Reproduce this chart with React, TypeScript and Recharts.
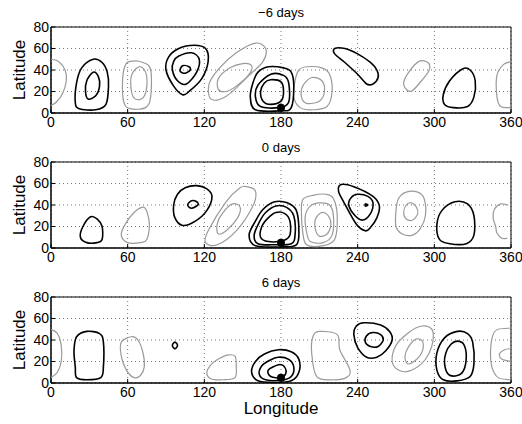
import React from "react";
import {
  CartesianGrid,
  ReferenceArea,
  Scatter,
  ScatterChart,
  XAxis,
  YAxis,
} from "recharts";

type Contour = [number, number][];

const lonTicks = [0, 60, 120, 180, 240, 300, 360];
const latTicks = [0, 20, 40, 60, 80];
const titles = ["\u22126 days", "0 days", "6 days"];
const marker: Contour = [[180, 5]];

// -6 days
const p1Black: Contour[] = [
  [[33, 50], [40, 47], [44, 38], [45, 25], [43, 8], [35, 3], [22, 4], [19, 10], [20, 28], [24, 42]],
  [[33, 38], [37, 34], [38, 25], [35, 16], [29, 13], [27, 20], [28, 30]],
  [[100, 60], [112, 63], [121, 60], [123, 48], [118, 32], [108, 20], [103, 17], [96, 25], [90, 40], [92, 52]],
  [[100, 53], [110, 56], [116, 50], [114, 38], [106, 27], [99, 30], [95, 40], [96, 48]],
  [[103, 44], [108, 43], [109, 40], [105, 37], [101, 39]],
  [[170, 43], [182, 42], [188, 38], [190, 25], [188, 5], [180, 2], [160, 3], [156, 15], [158, 28], [162, 38]],
  [[172, 36], [182, 35], [186, 28], [186, 10], [178, 5], [164, 6], [160, 15], [162, 26]],
  [[172, 31], [180, 29], [182, 20], [180, 11], [172, 8], [166, 11], [164, 20], [167, 28]],
  [[222, 60], [230, 60], [240, 55], [250, 47], [255, 40], [256, 33], [252, 27], [247, 27], [240, 36], [230, 47], [222, 55]],
  [[322, 41], [328, 40], [332, 30], [331, 15], [326, 6], [315, 5], [308, 8], [307, 17], [312, 30]],
];
const p1Gray: Contour[] = [
  [[62, 48], [72, 47], [78, 40], [78, 15], [74, 5], [62, 4], [57, 10], [56, 30], [58, 44]],
  [[69, 43], [74, 38], [75, 25], [72, 14], [66, 13], [63, 20], [63, 35]],
  [[160, 65], [168, 60], [166, 48], [155, 35], [140, 18], [130, 12], [124, 15], [124, 28], [132, 42], [145, 56]],
  [[150, 46], [157, 44], [155, 36], [145, 25], [137, 20], [131, 22], [131, 32], [140, 42]],
  [[200, 43], [212, 42], [218, 36], [220, 20], [216, 6], [205, 3], [195, 5], [190, 15], [191, 30], [194, 40]],
  [[204, 33], [212, 30], [214, 20], [210, 11], [200, 9], [196, 15], [197, 25]],
  [[288, 48], [295, 47], [296, 40], [290, 30], [283, 21], [279, 21], [276, 28], [280, 38]],
];
const p1Edge: Contour[] = [
  [[0, 50], [6, 48], [11, 40], [12, 30], [9, 18], [4, 10], [0, 7]],
  [[360, 48], [354, 45], [349, 35], [349, 15], [352, 6], [360, 5]],
];

// 0 days
const p2Black: Contour[] = [
  [[31, 29], [36, 27], [40, 20], [40, 8], [36, 5], [28, 5], [23, 10], [25, 20]],
  [[105, 56], [114, 58], [122, 55], [126, 48], [122, 35], [113, 25], [103, 21], [97, 28], [96, 40], [99, 50]],
  [[110, 44], [114, 43], [115, 40], [110, 37], [107, 40]],
  [[175, 43], [185, 42], [192, 35], [194, 15], [192, 3], [180, 1], [160, 2], [155, 12], [160, 25], [166, 36]],
  [[176, 39], [184, 38], [190, 30], [191, 12], [188, 4], [175, 3], [162, 4], [159, 12], [163, 24], [168, 33]],
  [[176, 33], [183, 32], [187, 25], [187, 12], [182, 7], [170, 6], [164, 10], [165, 20], [170, 28]],
  [[227, 59], [237, 57], [252, 48], [257, 39], [255, 28], [250, 19], [246, 16], [239, 22], [229, 43], [225, 53]],
  [[240, 50], [248, 48], [252, 42], [250, 32], [244, 26], [238, 30], [233, 40], [235, 47]],
  [[246, 41], [248, 40], [246, 39]],
  [[316, 43], [326, 41], [331, 30], [331, 12], [325, 4], [312, 4], [304, 8], [302, 22], [306, 35]],
];
const p2Gray: Contour[] = [
  [[72, 38], [75, 34], [77, 22], [75, 8], [70, 5], [60, 5], [55, 12], [58, 22], [65, 33]],
  [[153, 57], [160, 53], [158, 39], [145, 16], [130, 3], [121, 5], [123, 16], [137, 43], [148, 56]],
  [[142, 41], [148, 38], [146, 28], [138, 17], [131, 13], [130, 22], [134, 32]],
  [[205, 49], [215, 50], [221, 46], [224, 30], [222, 8], [212, 2], [200, 3], [197, 15], [196, 32], [197, 45]],
  [[210, 42], [218, 40], [221, 30], [220, 12], [213, 5], [203, 6], [200, 15], [199, 30], [203, 39]],
  [[212, 33], [217, 30], [219, 22], [216, 13], [210, 11], [207, 17], [207, 27]],
  [[278, 52], [287, 52], [292, 46], [293, 30], [289, 18], [283, 12], [275, 13], [270, 20], [270, 35], [272, 46]],
  [[282, 42], [286, 38], [287, 32], [283, 26], [278, 27], [276, 33], [278, 40]],
];
const p2Edge: Contour[] = [
  [[357, 40], [352, 41], [347, 36], [346, 28], [348, 20], [349, 14], [353, 9], [357, 9]],
];

// 6 days
const p3Black: Contour[] = [
  [[28, 48], [38, 46], [41, 38], [41, 15], [39, 5], [28, 3], [20, 5], [19, 15], [18, 30], [20, 43]],
  [[97, 38], [99, 35], [97, 32], [95, 35]],
  [[178, 31], [188, 29], [194, 22], [194, 10], [188, 2], [175, 0.5], [162, 2], [157, 10], [160, 20], [167, 27]],
  [[178, 24], [186, 22], [190, 15], [188, 6], [180, 2.5], [168, 3], [163, 8], [165, 16], [171, 21]],
  [[178, 17], [182, 16], [184, 10], [180, 5], [172, 6], [170, 12]],
  [[245, 56], [258, 54], [265, 48], [267, 40], [262, 30], [255, 24], [247, 24], [240, 33], [237, 45], [239, 53]],
  [[252, 47], [258, 45], [260, 40], [256, 34], [250, 34], [246, 38], [247, 44]],
  [[318, 48], [326, 46], [330, 38], [331, 18], [328, 6], [318, 2], [307, 3], [302, 12], [302, 28], [308, 42]],
  [[318, 39], [323, 36], [325, 25], [323, 12], [318, 7], [311, 8], [308, 18], [309, 28], [313, 36]],
];
const p3Gray: Contour[] = [
  [[63, 43], [68, 40], [72, 28], [73, 15], [70, 7], [65, 5], [59, 12], [55, 25], [55, 38]],
  [[138, 26], [144, 25], [145, 15], [144, 5], [135, 3], [125, 4], [122, 10], [126, 18], [132, 23]],
  [[210, 48], [224, 45], [226, 31], [234, 12], [231, 5], [221, 3], [208, 6], [204, 28], [205, 43]],
  [[290, 53], [298, 50], [299, 40], [296, 28], [290, 18], [280, 11], [272, 12], [267, 20], [270, 35], [280, 47]],
  [[286, 41], [291, 38], [290, 28], [284, 20], [279, 18], [277, 25], [280, 34]],
];
const p3Edge: Contour[] = [
  [[0, 50], [5, 46], [8, 35], [8, 20], [5, 10], [0, 5]],
  [[360, 51], [350, 50], [346, 45], [344, 30], [345, 15], [350, 5], [360, 3]],
  [[360, 32], [355, 31], [351, 27], [353, 22], [360, 20]],
];

// catmull-rom curve so the contour goes through the read points
const smooth = (closed: boolean) => (ctx: any) => {
  let pts: number[][] = [];
  return {
    areaStart() {},
    areaEnd() {},
    lineStart() {
      pts = [];
    },
    point(x: number, y: number) {
      pts.push([+x, +y]);
    },
    lineEnd() {
      const n = pts.length;
      if (!n) return;
      const at = (i: number) => (closed ? pts[(i + n) % n] : pts[Math.max(0, Math.min(n - 1, i))]);
      ctx.moveTo(pts[0][0], pts[0][1]);
      const segs = closed ? n : n - 1;
      for (let i = 0; i < segs; i++) {
        const p0 = at(i - 1), p1 = at(i), p2 = at(i + 1), p3 = at(i + 2);
        ctx.bezierCurveTo(
          p1[0] + (p2[0] - p0[0]) / 6, p1[1] + (p2[1] - p0[1]) / 6,
          p2[0] - (p3[0] - p1[0]) / 6, p2[1] - (p3[1] - p1[1]) / 6,
          p2[0], p2[1]
        );
      }
      if (closed) ctx.closePath();
    },
  };
};
const closedCurve = smooth(true);
const openCurve = smooth(false);

const toPts = (c: Contour) => c.map(([x, y]) => ({ x, y }));
const font = "'Liberation Sans', Arial, sans-serif";
const noShape = () => <g />;

function contourSeries(list: Contour[], color: string, width: number, closed: boolean, key: string) {
  return list.map((c, i) => (
    <Scatter
      key={`${key}-${i}`}
      data={toPts(c)}
      fill={color}
      line={{ stroke: color, strokeWidth: width }}
      lineType="joint"
      lineJointType={(closed ? closedCurve : openCurve) as any}
      shape={noShape}
      isAnimationActive={false}
    />
  ));
}

interface PanelProps {
  title: string;
  black: Contour[];
  gray: Contour[];
  edge: Contour[];
  last?: boolean;
}

function Panel({ title, black, gray, edge, last = false }: PanelProps) {
  const height = last ? 154 : 135;
  return (
    <div style={{ position: "relative", width: 522, height }}>
      <div
        style={{
          position: "absolute",
          left: 51,
          width: 460,
          top: 5,
          textAlign: "center",
          fontFamily: font,
          fontSize: 13,
          lineHeight: "16px",
        }}
      >
        {title}
      </div>
      <ScatterChart width={522} height={height} margin={{ top: 27, right: 11, bottom: 0, left: 0 }}>
        <CartesianGrid stroke="#777" strokeDasharray="1 3" />
        <XAxis
          type="number"
          dataKey="x"
          domain={[0, 360]}
          ticks={lonTicks}
          interval={0}
          height={last ? 41 : 22}
          axisLine={{ stroke: "#000" }}
          tickLine={{ stroke: "#000" }}
          tickSize={-4}
          tickMargin={8}
          tick={{ fill: "#000", fontSize: 14, fontFamily: font }}
          label={
            last
              ? { value: "Longitude", position: "insideBottom", offset: 10, fill: "#000", fontSize: 17, fontFamily: font }
              : undefined
          }
        />
        <XAxis xAxisId="top" orientation="top" type="number" dataKey="x" domain={[0, 360]} ticks={lonTicks} interval={0} height={0} tick={false} tickSize={-4} axisLine={{ stroke: "#000" }} tickLine={{ stroke: "#000" }} />
        <YAxis
          type="number"
          dataKey="y"
          domain={[0, 80]}
          ticks={latTicks}
          interval={0}
          width={51}
          axisLine={{ stroke: "#000" }}
          tickLine={{ stroke: "#000" }}
          tickSize={-4}
          tickMargin={6}
          tick={{ fill: "#000", fontSize: 14, fontFamily: font }}
          label={{
            value: "Latitude",
            angle: -90,
            position: "insideLeft",
            offset: 19,
            fill: "#000",
            fontSize: 17,
            fontFamily: font,
            style: { textAnchor: "middle" },
          }}
        />
        <YAxis yAxisId="right" orientation="right" type="number" dataKey="y" domain={[0, 80]} ticks={latTicks} interval={0} width={0} tick={false} tickSize={-4} axisLine={{ stroke: "#000" }} tickLine={{ stroke: "#000" }} />
        {contourSeries(gray, "#9a9a9a", 1.2, true, "g")}
        {contourSeries(edge, "#9a9a9a", 1.2, false, "e")}
        {contourSeries(black, "#000", 1.6, true, "b")}
        <Scatter
          data={toPts(marker)}
          fill="#000"
          shape={(p: any) => <circle cx={p.cx} cy={p.cy} r={4} fill="#000" />}
          isAnimationActive={false}
        />
        <ReferenceArea x1={0} x2={360} y1={0} y2={80} fill="none" stroke="#000" strokeWidth={1} ifOverflow="visible" />
      </ScatterChart>
    </div>
  );
}

export default function App() {
  return (
    <div style={{ position: "absolute", left: 0, top: 0, width: 522, height: 424, background: "#fff" }}>
      <Panel title={titles[0]} black={p1Black} gray={p1Gray} edge={p1Edge} />
      <Panel title={titles[1]} black={p2Black} gray={p2Gray} edge={p2Edge} />
      <Panel title={titles[2]} black={p3Black} gray={p3Gray} edge={p3Edge} last />
    </div>
  );
}
